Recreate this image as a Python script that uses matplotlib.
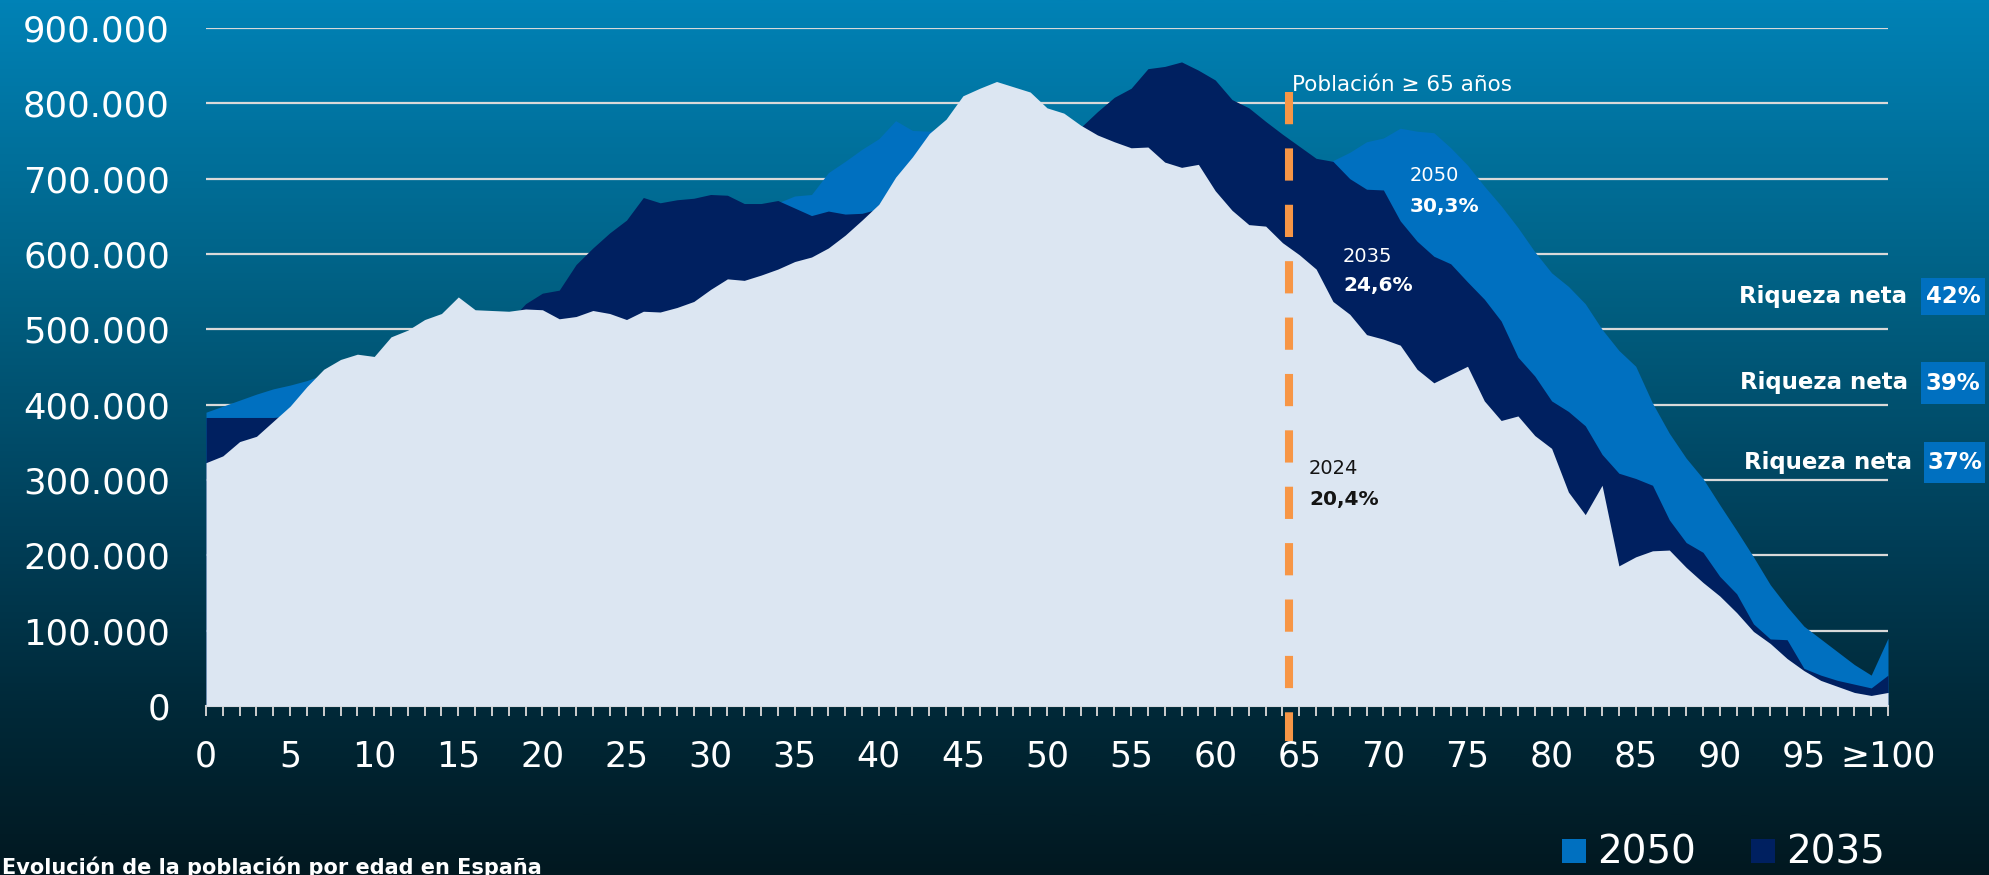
import matplotlib
matplotlib.use('Agg')
import matplotlib.pyplot as plt
import numpy as np
from matplotlib.patches import Rectangle
from matplotlib.colors import LinearSegmentedColormap

plt.rcParams['font.family'] = ['DejaVu Sans']

# ---------------- data (thousands of people by age) ----------------
ages = list(range(101))
pop_2024 = [323, 332, 351, 358, 378, 398, 424, 447, 460, 467,
            464, 490, 499, 513, 521, 543, 526, 525, 524, 527,
            526, 514, 517, 525, 521, 513, 524, 523, 529, 537,
            553, 567, 565, 572, 580, 590, 596, 608, 625, 645,
            666, 702, 729, 760, 779, 810, 820, 829, 822, 815,
            794, 787, 771, 758, 749, 741, 742, 722, 715, 719,
            684, 658, 639, 637, 615, 599, 580, 537, 520, 493,
            487, 479, 447, 429, 440, 451, 405, 379, 385, 359,
            342, 284, 254, 293, 186, 198, 206, 207, 184, 164,
            146, 124, 99, 83, 63, 47, 34, 26, 18, 14,
            18]
pop_2035 = [383, 383, 383, 383, 383, 385, 390, 395, 400, 405,
            410, 420, 430, 440, 450, 460, 475, 490, 510, 534,
            548, 552, 586, 608, 628, 645, 675, 668, 672, 674,
            679, 678, 667, 667, 671, 661, 651, 657, 653, 654,
            660, 690, 715, 745, 765, 790, 805, 810, 805, 800,
            785, 775, 768, 789, 808, 820, 846, 849, 855, 844,
            831, 805, 794, 776, 759, 743, 727, 723, 700, 686,
            685, 644, 617, 597, 587, 563, 540, 511, 463, 438,
            405, 391, 372, 334, 309, 302, 293, 247, 217, 204,
            172, 149, 109, 89, 88, 50, 41, 34, 29, 24,
            41]
pop_2050 = [390, 398, 406, 414, 421, 426, 432, 440, 450, 455,
            458, 470, 480, 490, 500, 510, 515, 518, 520, 525,
            530, 540, 555, 570, 585, 600, 615, 625, 635, 640,
            645, 650, 655, 660, 668, 677, 679, 708, 723, 739,
            753, 777, 764, 763, 770, 790, 800, 805, 800, 790,
            775, 765, 755, 750, 745, 740, 740, 740, 735, 735,
            730, 725, 720, 718, 715, 715, 718, 724, 735, 749,
            754, 767, 763, 761, 741, 718, 690, 664, 635, 603,
            575, 557, 534, 500, 472, 451, 402, 362, 329, 302,
            267, 233, 198, 161, 132, 106, 89, 72, 55, 41,
            90]

y_ticks = list(range(0, 900001, 100000))
x_tick_labels = [('≥100' if a == 100 else str(a)) if a % 5 == 0 else '' for a in ages]
share_labels = [('2050', '30,3%'), ('2035', '24,6%'), ('2024', '20,4%')]
wealth_labels = ['42%', '39%', '37%']
legend_labels = ['2050', '2035']
age_threshold = 64.4

C_2024 = '#dce6f2'
C_2035 = '#002060'
C_2050 = '#0070c0'
C_ORANGE = '#f79646'

W, H = 1990, 875
fig = plt.figure(figsize=(W / 100, H / 100), dpi=100)

# background gradient
bg = fig.add_axes([0, 0, 1, 1], zorder=-10)
cmap = LinearSegmentedColormap.from_list('bg', [
    (0.0, '#0082b6'), (0.35, '#005e80'), (0.6, '#00405a'),
    (0.8, '#002a3a'), (1.0, '#021820')])
bg.imshow(np.linspace(0, 1, 512).reshape(-1, 1), aspect='auto', cmap=cmap,
          extent=[0, 1, 0, 1], origin='upper')
bg.axis('off')

ax = fig.add_axes([206 / W, 1 - 706 / H, (1888 - 206) / W, (706 - 28) / H])
ax.set_facecolor('none')
x = np.array(ages)
ax.fill_between(x, 0, np.array(pop_2050) * 1000, color=C_2050, lw=0, zorder=1)
ax.fill_between(x, 0, np.array(pop_2035) * 1000, color=C_2035, lw=0, zorder=2)
ax.fill_between(x, 0, np.array(pop_2024) * 1000, color=C_2024, lw=0, zorder=3)

ax.set_xlim(0, 100)
ax.set_ylim(0, 900000)
ax.set_yticks(y_ticks)
ax.set_yticklabels([f'{v:,}'.replace(',', '.') for v in y_ticks])
ax.yaxis.grid(True, color='#d9d9d9', lw=1.6)
ax.set_axisbelow(True)
ax.tick_params(axis='y', length=0, pad=26, labelsize=25.5, labelcolor='white')
ax.set_xticks(ages)
ax.set_xticklabels(x_tick_labels)
ax.tick_params(axis='x', length=7.2, width=1.4, color='#cfcfcf', pad=17,
               labelsize=25, labelcolor='white')
for s in ['left', 'right', 'top']:
    ax.spines[s].set_visible(False)
ax.spines['bottom'].set_color('#cfcfcf')
ax.spines['bottom'].set_linewidth(1.5)

ax.plot([age_threshold, age_threshold], [814700, -46500], color=C_ORANGE, lw=5.8,
        dashes=(4, 3), dash_capstyle='butt', clip_on=False, zorder=6)


def T(px, py, s, **kw):
    return fig.text(px / W, 1 - py / H, s, **kw)


T(1292, 91, 'Población ≥ 65 años', va='baseline', ha='left', size=15.5, color='white')
pos = [(1410, 181, 212, 'white'), (1343, 262, 291, 'white'), (1309, 474, 505, '#141414')]
for (yr, pct), (px, py1, py2, col) in zip(share_labels, pos):
    T(px, py1, yr, va='baseline', size=14, color=col)
    T(px, py2, pct, va='baseline', size=14.5, weight='bold', color=col)

boxes = [(1921, 278, 1985, 315), (1921, 362, 1985, 404), (1924, 442, 1985, 483)]
text_right = [1907, 1908, 1912]
for lab, (x0, y0, x1, y1), xr in zip(wealth_labels, boxes, text_right):
    yc = (y0 + y1) / 2
    fig.add_artist(Rectangle((x0 / W, 1 - y1 / H), (x1 - x0) / W, (y1 - y0) / H,
                             transform=fig.transFigure, color=C_2050, lw=0))
    T(xr, yc, 'Riqueza neta', ha='right', va='center', size=16.5, weight='bold', color='white')
    T((x0 + x1) / 2, yc, lab, ha='center', va='center', size=16.5, weight='bold', color='white')

# legend
for lab, col, sx in zip(legend_labels, [C_2050, C_2035], [1562, 1751]):
    fig.add_artist(Rectangle((sx / W, 1 - 863 / H), 24 / W, 24 / H,
                             transform=fig.transFigure, color=col, lw=0))
    T(sx + 35, 863, lab, va='baseline', ha='left', size=28, color='white')

T(2, 856, 'Evolución de la población por edad en España', va='top', ha='left',
  size=15, weight='bold', color='white')

fig.savefig('out.png', dpi=100)
